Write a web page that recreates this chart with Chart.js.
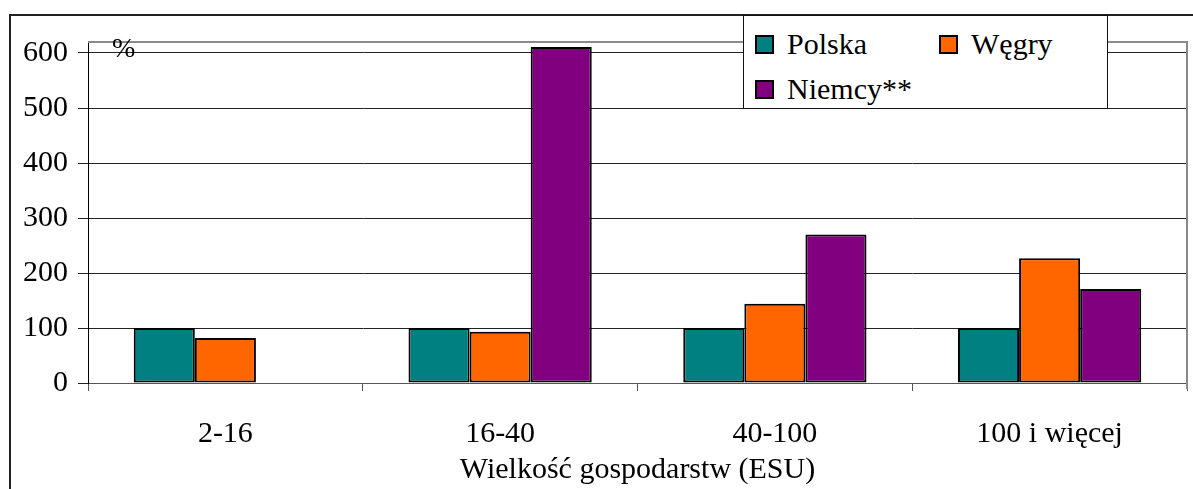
<!DOCTYPE html>
<html>
<head>
<meta charset="utf-8">
<script src="https://cdn.jsdelivr.net/npm/chart.js@4"></script>
<style>
  html, body { margin: 0; padding: 0; background: #fff; overflow: hidden; }
  #wrap { position: relative; width: 1193px; height: 489px; }
  #frame { position: absolute; left: 9px; top: 14px; width: 1300px; height: 600px;
           border-left: 2px solid #222; border-top: 2px solid #222; }
  #chart { position: absolute; left: 0; top: 0; }
  #legend { position: absolute; left: 743px; top: 15px; width: 363px; height: 92px;
            background: #fff; border: 1px solid #111; font-family: "Liberation Serif", "Times New Roman", serif;
            font-size: 30px; color: #000; }
  .item { position: absolute; display: flex; align-items: center; white-space: nowrap; }
  .sw { width: 15px; height: 15px; border: 2px solid #000; margin-right: 13px; }
</style>
</head>
<body>
<div id="wrap">
  <div id="frame"></div>
  <canvas id="chart" width="1193" height="489"></canvas>
  <div id="legend"></div>
</div>
<script>
// dane
const kategorie = ['2-16', '16-40', '40-100', '100 i więcej'];
const polska = [100, 100, 100, 100];
const wegry = [82, 93, 144, 227];
const niemcy = [null, 611, 270, 171];
const nazwySerii = ['Polska', 'Węgry', 'Niemcy**'];
const kolory = ['#008080', '#FF6600', '#800080'];
const osY = [0, 100, 200, 300, 400, 500, 600];

const font = { family: '"Liberation Serif", "Times New Roman", serif', size: 30 };

// legenda jak w Excelu
const legendPos = [[11, 11], [195, 11], [11, 56]];
const legend = document.getElementById('legend');
nazwySerii.forEach((n, i) => {
  const d = document.createElement('div');
  d.className = 'item';
  d.style.left = legendPos[i][0] + 'px';
  d.style.top = legendPos[i][1] + 'px';
  d.innerHTML = '<span class="sw" style="background:' + kolory[i] + '"></span><span>' + n + '</span>';
  legend.appendChild(d);
});

// ramka obszaru wykresu + znak %
const ramka = {
  id: 'ramka',
  afterDraw(chart) {
    const { ctx, chartArea: a } = chart;
    ctx.save();
    ctx.strokeStyle = '#8a8a8a';
    ctx.lineWidth = 2;
    ctx.beginPath();
    ctx.moveTo(a.left, a.top);
    ctx.lineTo(a.right, a.top);
    ctx.lineTo(a.right, a.bottom + 6);
    ctx.stroke();
    ctx.fillStyle = '#000';
    ctx.font = '28px "Liberation Serif", serif';
    ctx.textBaseline = 'middle';
    ctx.fillText('%', 112, 50);
    ctx.restore();
  }
};

const ds = [polska, wegry, niemcy].map((d, i) => ({
  label: nazwySerii[i],
  data: d,
  backgroundColor: kolory[i],
  borderColor: '#000',
  borderWidth: 2,
  borderSkipped: false,
  categoryPercentage: 0.667,
  barPercentage: 1.0
}));

new Chart(document.getElementById('chart'), {
  type: 'bar',
  data: { labels: kategorie, datasets: ds },
  plugins: [ramka],
  options: {
    responsive: false,
    animation: false,
    layout: { padding: { left: 0, top: 42, right: 6, bottom: 0 } },
    plugins: { legend: { display: false }, tooltip: { enabled: false } },
    scales: {
      x: {
        grid: { drawOnChartArea: false, tickLength: 8, color: '#555', offset: true },
        border: { color: '#555', width: 1 },
        ticks: { font: font, color: '#000', padding: 25, maxRotation: 0 },
        title: { display: true, text: 'Wielkość gospodarstw (ESU)', font: font, color: '#000',
                 padding: { top: 0, bottom: 1 } },
        afterFit(s) { s.height = 106; }
      },
      y: {
        min: 0,
        max: 620,
        afterBuildTicks(s) { s.ticks = osY.map(v => ({ value: v })); },
        grid: { color: '#222', tickLength: 10 },
        border: { color: '#000', width: 1 },
        ticks: { font: font, color: '#000', padding: 10 },
        afterFit(s) { s.width = 88; }
      }
    }
  }
});
</script>
</body>
</html>
